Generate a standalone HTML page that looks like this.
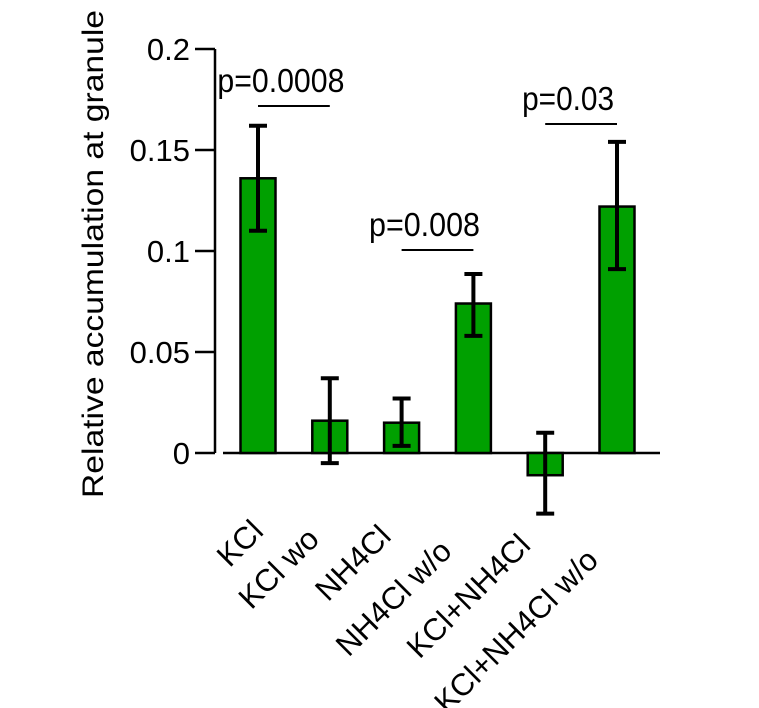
<!DOCTYPE html>
<html><head><meta charset="utf-8"><style>
html,body{margin:0;padding:0;background:#fff;}
svg{display:block;font-family:"Liberation Sans",sans-serif;}
</style></head><body>
<svg id="chart" width="759" height="708" viewBox="0 0 759 708" xmlns="http://www.w3.org/2000/svg">
<g id="axes"></g><g id="bars"></g><g id="labels"></g>
</svg>
<script>
const categories = ["KCl","KCl wo","NH4Cl","NH4Cl w/o","KCl+NH4Cl","KCl+NH4Cl w/o"];
const values = [0.136, 0.016, 0.015, 0.074, -0.011, 0.122];
const errLow = [0.110, -0.005, 0.0035, 0.058, -0.030, 0.091];
const errHigh = [0.162, 0.037, 0.027, 0.0886, 0.010, 0.154];
const yTicks = [0, 0.05, 0.1, 0.15, 0.2];
const yTickLabels = ["0","0.05","0.1","0.15","0.2"];
const sigPairs = [[0,1],[2,3],[4,5]];
const sigLabels = ["p=0.0008","p=0.008","p=0.03"];

const NS="http://www.w3.org/2000/svg";
const y0=453, pxPerUnit=2020;
function yS(v){return y0 - v*pxPerUnit;}
function xS(i){return 258 + i*71.8;}
const barW=35;
function mk(tag,attrs,parent,text){const e=document.createElementNS(NS,tag);for(const k in attrs)e.setAttribute(k,attrs[k]);if(text!==undefined)e.textContent=text;parent.appendChild(e);return e;}
const axes=document.getElementById('axes'), bars=document.getElementById('bars'), labels=document.getElementById('labels');

let yl=mk('line',{x1:215,y1:yS(0.2),x2:215,y2:y0,stroke:'#000','stroke-width':2.5},axes);


let xl=mk('line',{x1:223,y1:y0,x2:660,y2:y0,stroke:'#000','stroke-width':2.5},axes);


yTicks.forEach((t,i)=>{
  let tk=mk('line',{x1:195,y1:yS(t),x2:215,y2:yS(t),stroke:'#000','stroke-width':2.5},axes);
  
  
  let tl=mk('text',{x:190,y:yS(t)+11,'text-anchor':'end','font-size':31},axes,yTickLabels[i]);
  
  
});
let yt=mk('text',{x:0,y:0,'text-anchor':'middle','font-size':30,textLength:488,lengthAdjust:'spacingAndGlyphs',transform:'translate(103,254) rotate(-90)'},axes,'Relative accumulation at granule');



values.forEach((v,i)=>{
  const cx=xS(i);
  const top=Math.min(yS(v),y0), h=Math.abs(yS(v)-y0);
  let r=mk('rect',{x:cx-barW/2,y:top,width:barW,height:h,fill:'#00a000',stroke:'#000','stroke-width':2.5},bars);
  
  
  let g=mk('g',{stroke:'#000','stroke-width':4},bars);
  
  
  mk('line',{x1:cx,y1:yS(errHigh[i]),x2:cx,y2:yS(errLow[i])},g);
  mk('line',{x1:cx-9,y1:yS(errHigh[i]),x2:cx+9,y2:yS(errHigh[i])},g);
  mk('line',{x1:cx-9,y1:yS(errLow[i]),x2:cx+9,y2:yS(errLow[i])},g);
});

const labelOff=[[7,533],[-9,541],[-9,538],[-20,553],[-13,547],[-17,562]];
categories.forEach((c,i)=>{
  const x=xS(i)+labelOff[i][0], y=labelOff[i][1];
  let t=mk('text',{x:x,y:y,'text-anchor':'end','font-size':31,transform:`rotate(-45 ${x} ${y})`},labels,c);
  
  
});

const sigLineY=[106,250,124];
const sigTextW=[127,111,92];
sigPairs.forEach((p,k)=>{
  const ly=sigLineY[k];
  let l=mk('line',{x1:xS(p[0]),y1:ly,x2:xS(p[1]),y2:ly,stroke:'#000','stroke-width':2},labels);
  
  
  const cx=(xS(p[0])+xS(p[1]))/2;
  let t=mk('text',{x:cx-13,y:ly-14,'text-anchor':'middle','font-size':33,textLength:sigTextW[k],lengthAdjust:'spacingAndGlyphs'},labels,sigLabels[k]);
  
  
});
</script>
</body></html>
